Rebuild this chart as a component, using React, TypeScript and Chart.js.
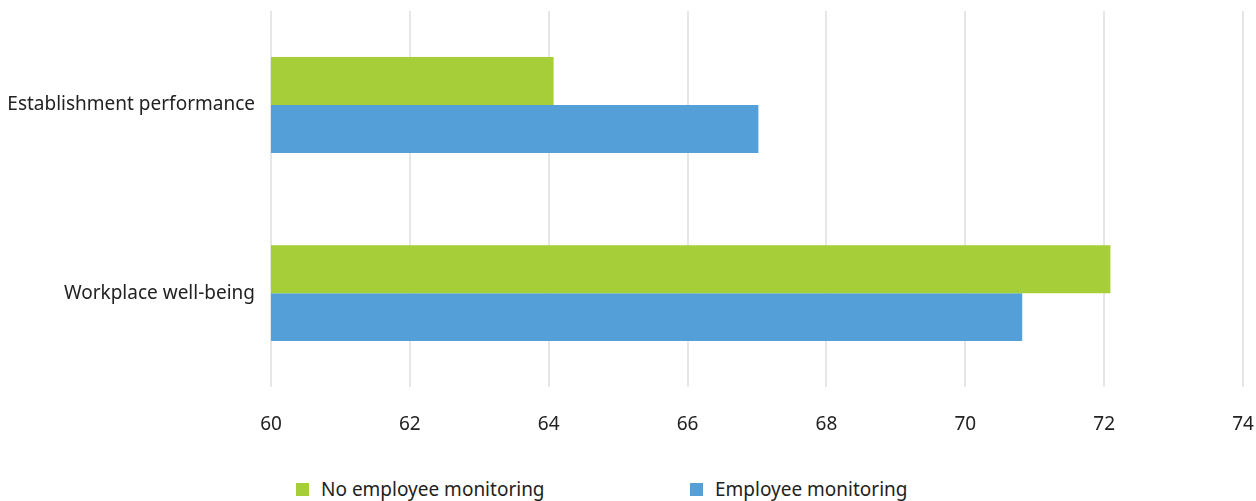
import React, { useEffect, useRef } from "react";
import { Chart, registerables } from "chart.js";

Chart.register(...registerables);

const categories = ["Establishment performance", "Workplace well-being"];
const seriesNames = ["No employee monitoring", "Employee monitoring"];
const noMonitoring = [64.07, 72.09];
const monitoring = [67.02, 70.82];
const seriesColors = ["#a6ce39", "#549fd8"];
const xMin = 60;
const xMax = 74;
const xStep = 2;

const FONT = "'Noto Sans', sans-serif";
const FONT_SIZE = 19;

export default function App() {
  const ref = useRef<HTMLCanvasElement | null>(null);

  useEffect(() => {
    document.body.style.margin = "0";
    const canvas = ref.current;
    if (!canvas) return;
    const chart = new Chart(canvas, {
      type: "bar",
      data: {
        labels: categories,
        datasets: [
          {
            label: seriesNames[0],
            data: noMonitoring,
            backgroundColor: seriesColors[0],
            borderWidth: 0,
            barPercentage: 1,
            categoryPercentage: 0.51,
          },
          {
            label: seriesNames[1],
            data: monitoring,
            backgroundColor: seriesColors[1],
            borderWidth: 0,
            barPercentage: 1,
            categoryPercentage: 0.51,
          },
        ],
      },
      options: {
        indexAxis: "y",
        responsive: false,
        animation: false,
        maintainAspectRatio: false,
        layout: { padding: { top: 11, right: 13, bottom: 13, left: 0 } },
        plugins: {
          legend: { display: false },
          tooltip: { enabled: false },
        },
        scales: {
          x: {
            min: xMin,
            max: xMax,
            afterFit: (scale: any) => {
              scale.paddingLeft = 0;
              scale.paddingRight = 0;
            },
            ticks: {
              stepSize: xStep,
              padding: 26,
              color: "#222",
              font: { family: FONT, size: FONT_SIZE },
            },
            grid: { color: "#e6e6e6", lineWidth: 2, drawTicks: false },
            border: { display: false },
          },
          y: {
            afterFit: (scale: any) => {
              scale.width = 271;
              scale.paddingTop = 0;
              scale.paddingBottom = 0;
            },
            ticks: {
              padding: 16,
              color: "#222",
              font: { family: FONT, size: FONT_SIZE },
            },
            grid: { display: false, drawTicks: false },
            border: { display: false },
          },
        },
      },
    });
    return () => chart.destroy();
  }, []);

  const legendItem = (i: number, left: number) => (
    <div
      key={i}
      style={{
        position: "absolute",
        left,
        top: 477,
        display: "flex",
        alignItems: "center",
        fontFamily: FONT,
        fontSize: FONT_SIZE,
        color: "#222",
        whiteSpace: "nowrap",
        height: 24,
      }}
    >
      <span
        style={{
          display: "inline-block",
          width: 13,
          height: 13,
          background: seriesColors[i],
          marginRight: 12,
        }}
      />
      {seriesNames[i]}
    </div>
  );

  return (
    <div style={{ position: "relative", width: 1256, height: 501 }}>
      <canvas ref={ref} width={1256} height={475} style={{ display: "block", position: "absolute", left: 0, top: 0 }} />
      {legendItem(0, 296)}
      {legendItem(1, 690)}
    </div>
  );
}
